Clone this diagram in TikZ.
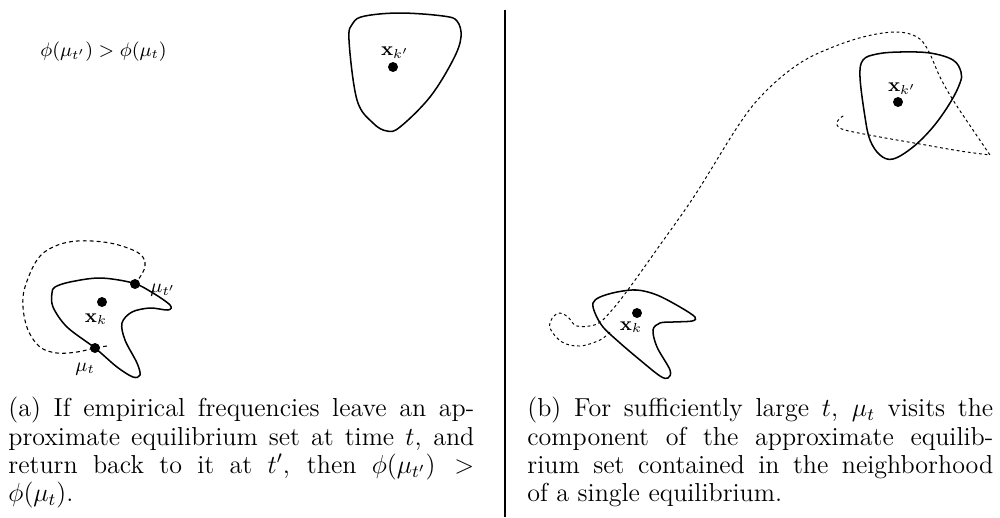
\documentclass[tikz,border=0pt]{standalone}
\usepackage{amsmath}
\begin{document}
\begin{tikzpicture}[x=0.4615pt,y=-0.4615pt,
  blob/.style={line width=0.7pt},
  dot/.style={circle,fill=black,inner sep=0pt,minimum size=4.6pt},
  lbl/.style={font=\small,inner sep=0pt},
  trailA/.style={line width=0.5pt,dash pattern=on 1.8pt off 1.4pt},
  trailB/.style={line width=0.45pt,dash pattern=on 1.3pt off 1.3pt},
  captxt/.style={inner sep=0pt,text width=215pt,align=justify,anchor=north west,font=\fontsize{12}{13}\selectfont}]
\useasboundingbox (0,0) rectangle (1000,517);

% ---------- panel (a) ----------
\node[lbl,anchor=base west] (ineq) at (40,56) {$\phi(\mu_{t'}) > \phi(\mu_t)$};

% top-right blob of (a)
\draw[blob] plot[smooth cycle,tension=0.6] coordinates {
  (353,23) (365,16) (400,13) (443,16) (457,21) (461,37) (453,60) (430,97)
  (400,127) (387,131) (373,123) (357,100) (349,40)};
\node[dot] (xkpA) at (393,67) {};
\node[lbl,anchor=base] (lxkpA) at (395,55) {$\mathbf{x}_{k'}$};

% bottom-left blob of (a)
\draw[blob] plot[smooth cycle,tension=0.55] coordinates {
  (55,287) (70,282) (100,278) (133,283) (153,293) (170,305) (168,310)
  (150,308) (132,312) (122,323) (125,340) (137,363) (140,375) (133,377)
  (117,367) (95,348) (67,327) (53,307) (52,293)};
\node[dot] (xkA) at (102,302) {};
\node[lbl,anchor=base] (lxkA) at (96,322) {$\mathbf{x}_k$};
\node[dot] (mutp) at (135,284) {};
\node[dot] (mut) at (95,348) {};
\node[lbl,anchor=base west] (lmutp) at (150,292) {$\mu_{t'}$};
\node[lbl,anchor=base west] (lmut) at (75,371) {$\mu_t$};

\draw[trailA] plot[smooth,tension=0.6] coordinates {
  (107,346) (mut.center) (77,352) (57,353) (40,347) (28,330) (23,307) (25,287)
  (37,260) (53,247) (77,241) (110,243) (137,252) (145,262) (143,272) (mutp.center)};

\node[captxt] (capA) at (8,397) {(a) If empirical frequencies leave an ap-\linebreak
proximate equilibrium set at time $t$, and\linebreak
return back to it at $t'$, then $\phi(\mu_{t'}) >$\linebreak
$\phi(\mu_t)$.};

% separator
\draw[line width=0.9pt] (505,10) -- (505,517);

% ---------- panel (b) ----------
\draw[blob] plot[smooth cycle,tension=0.6] coordinates {
  (863,60) (877,54) (900,52) (930,53) (953,60) (961,72) (960,83) (950,103)
  (933,127) (913,147) (893,159) (880,155) (870,140) (865,117) (860,77)};
\node[dot] (xkpB) at (898,102) {};
\node[lbl,anchor=base] (lxkpB) at (902,91) {$\mathbf{x}_{k'}$};

\draw[blob] plot[smooth cycle,tension=0.55] coordinates {
  (593,303) (600,297) (617,292) (637,290) (657,295) (680,307) (695,317)
  (692,321) (673,322) (660,323) (653,330) (657,347) (670,370) (668,378)
  (660,376) (640,360) (620,343) (603,327) (595,313)};
\node[dot] (xkB) at (637,313) {};
\node[lbl,anchor=base] (lxkB) at (631,330) {$\mathbf{x}_k$};

\coordinate (trS) at (610,332);
\coordinate (trC) at (990,155);
\coordinate (trE) at (845,115);
\draw[trailB] plot[smooth,tension=0.6] coordinates {
  (trS) (600,340) (580,346) (562,342) (550,328) (553,317) (560,313) (568,317)
  (577,326) (597,324) (612,310) (630,287) (660,245)
  (695,195) (740,123) (767,90) (800,63) (833,47) (867,36) (897,32)
  (917,37) (928,50) (940,77) (953,100) (973,130) (trC)}
  -- plot[smooth,tension=0.6] coordinates {
  (trC) (960,151) (920,144) (880,137) (845,130) (837,125) (839,119) (trE)};

\node[captxt] (capB) at (527,397) {(b) For sufficiently large $t$, $\mu_t$ visits the\linebreak
component of the approximate equilib-\linebreak
rium set contained in the neighborhood\linebreak
of a single equilibrium.};
\end{tikzpicture}
\end{document}
